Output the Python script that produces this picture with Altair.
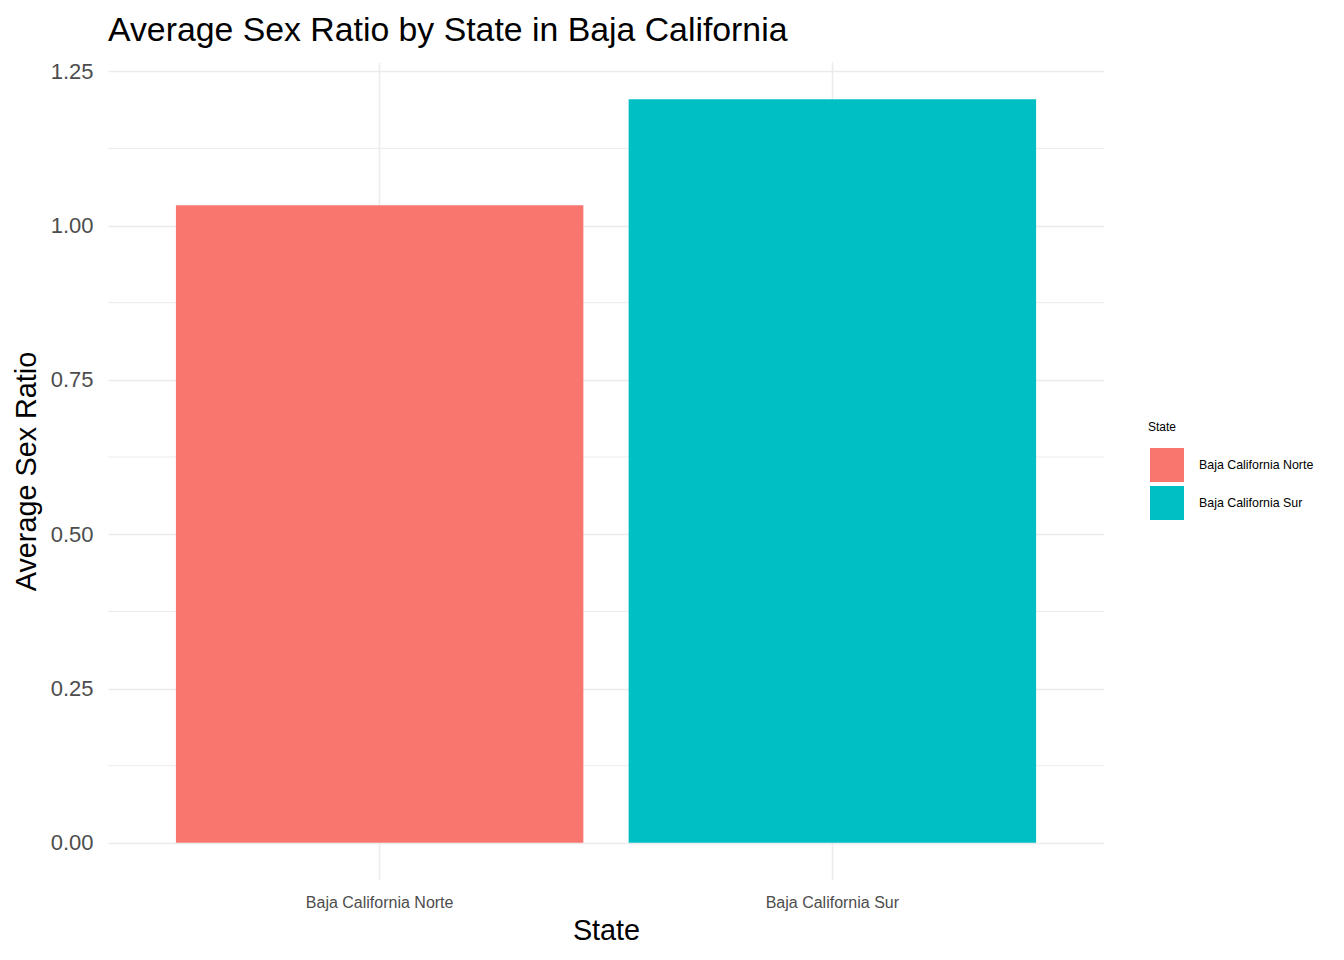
import altair as alt
import pandas as pd

states = ["Baja California Norte", "Baja California Sur"]
ratios = [1.033, 1.2047]
colors = ["#F8766D", "#00BFC4"]
major_ticks = [0, 0.25, 0.5, 0.75, 1.0, 1.25]
minor_ticks = [0.125, 0.375, 0.625, 0.875, 1.125]

FONT = "Liberation Sans"
GRID = "#EBEBEB"

bars_df = pd.DataFrame({"State": states, "ratio": ratios})
minor_df = pd.DataFrame({"v": minor_ticks})

yscale = alt.Scale(domain=[-0.0602, 1.2649], nice=False, zero=False)
yaxis = alt.Axis(
    title="Average Sex Ratio",
    values=major_ticks,
    format=".2f",
    labelFontSize=22,
    labelColor="#4D4D4D",
    labelPadding=15,
    titleFontSize=28.8,
    titleFontWeight="normal",
    titleColor="black",
    titlePadding=9,
    ticks=False,
    domain=False,
    grid=True,
    gridColor=GRID,
    gridWidth=1.5,
)

minor = alt.Chart(minor_df).mark_rule(color=GRID, strokeWidth=1).encode(
    y=alt.Y("v:Q", scale=yscale, axis=yaxis, title="Average Sex Ratio")
)

bars = alt.Chart(bars_df).mark_bar().encode(
    x=alt.X(
        "State:N",
        sort=states,
        scale=alt.Scale(paddingInner=0.1, paddingOuter=0.15),
        axis=alt.Axis(
            title="State",
            labelAngle=0,
            labelFontSize=16,
            labelColor="#4D4D4D",
            labelPadding=14,
            titleFontSize=28.8,
            titleFontWeight="normal",
            titleColor="black",
            titlePadding=6,
            ticks=False,
            domain=False,
            grid=True,
            gridColor=GRID,
            gridWidth=1.5,
            bandPosition=0.5,
        ),
    ),
    y=alt.Y("ratio:Q", scale=yscale, axis=yaxis, title="Average Sex Ratio"),
    y2=alt.datum(0),
    color=alt.Color(
        "State:N",
        scale=alt.Scale(domain=states, range=colors),
        legend=alt.Legend(
            title="State",
            orient="none",
            legendX=1040,
            legendY=360,
            symbolType="square",
            symbolSize=1156,
            symbolStrokeWidth=0,
            symbolOpacity=1,
            symbolOffset=2,
            labelFontSize=12.4,
            labelColor="black",
            titleFontSize=12,
            titleFontWeight="normal",
            titleColor="black",
            labelOffset=15,
            rowPadding=4,
            titlePadding=14,
        ),
    ),
)

chart = (
    alt.layer(minor, bars)
    .properties(
        width=996,
        height=818,
        autosize=alt.AutoSizeParams(type="none"),
        padding={"left": 100, "top": 54, "right": 220, "bottom": 70},
        title=alt.TitleParams(
            "Average Sex Ratio by State in Baja California",
            anchor="start",
            frame="group",
            fontSize=33.8,
            fontWeight="normal",
            color="black",
            offset=12,
        ),
    )
    .configure(font=FONT)
    .configure_view(stroke=None)
)

chart.save("out.html", embed_options={"renderer": "svg", "actions": False})
